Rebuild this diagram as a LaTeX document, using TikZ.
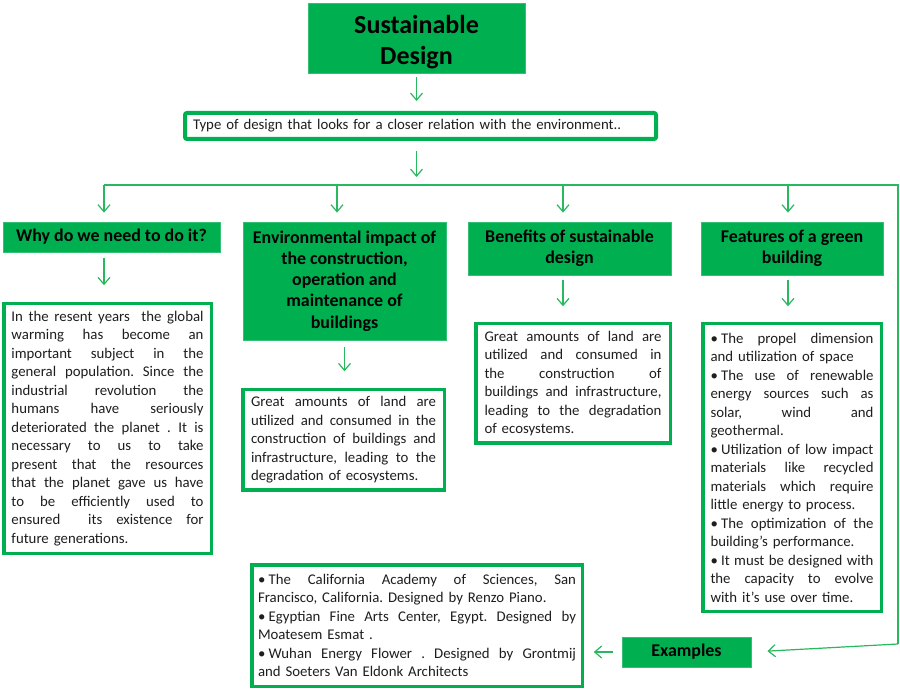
\documentclass[tikz,border=0pt]{standalone}
\usepackage{fontspec}
\setmainfont{Carlito}
\usetikzlibrary{arrows.meta}
\definecolor{gfill}{RGB}{0,176,80}
\definecolor{gline}{RGB}{40,184,96}
\definecolor{txt}{RGB}{30,30,30}
\newlength\jw
\newcommand\jl[1]{\makebox[\jw][s]{\spaceskip=\fontdimen2\font plus 1fil minus \fontdimen4\font\relax #1}}
\newcommand\bul{\mbox{•~}}
\frenchspacing
\begin{document}
\begin{tikzpicture}[x=1pt,y=-1pt,
 head/.style={rectangle, fill=gfill, draw=gfill!80!white, line width=0.8pt, inner sep=0pt, align=center, font=\fontsize{17.9}{21.2}\selectfont\bfseries, text=black},
 tbox/.style={rectangle, draw=gfill, line width=3.5pt, fill=white, inner sep=0pt, align=left, font=\fontsize{14.8}{18.5}\selectfont, text=txt},
 jw/.style={text width=#1, execute at begin node={\setlength{\jw}{#1}}},
 arr/.style={draw=gline, line width=1.2pt, -{Straight Barb[length=7pt,width=12pt]}},
 bus/.style={draw=gline, line width=1.2pt},
]
\useasboundingbox[fill=white] (0,0) rectangle (900,700);

% title and description
\node[head, minimum width=217, minimum height=70, font=\fontsize{26}{31}\selectfont\bfseries] (title) at (416.5,38) {\rule{0pt}{26pt}Sustainable\\Design};
\node[tbox, line width=4pt, rounded corners=2pt, minimum width=471, minimum height=26, text width=455] (desc) at (420.5,126) {Type of design that looks for a closer relation with the environment..};

% headings
\node[head, minimum width=217, minimum height=30] (why) at (111.5,237) {Why do we need to do it?};
\node[head, minimum width=203, minimum height=118] (env) at (344.5,281) {Environmental impact of\\the construction,\\operation and\\maintenance of\\buildings};
\node[head, minimum width=203, minimum height=53] (ben) at (569.5,248.5) {Benefits of sustainable\\design};
\node[head, minimum width=182, minimum height=53] (feat) at (792,248.5) {Features of a green\\building};
\node[head, minimum width=129, minimum height=30] (exh) at (686.5,652) {Examples};

% text boxes
\node[tbox, minimum width=207.5, minimum height=249.5, jw=192pt] (b1) at (107.5,428.5) {%
\jl{In the resent years~ the global}\\
\jl{warming has become an}\\
\jl{important subject in the}\\
\jl{general population. Since the}\\
\jl{industrial revolution the}\\
\jl{humans have seriously}\\
\jl{deteriorated the planet . It is}\\
\jl{necessary to us to take}\\
\jl{present that the resources}\\
\jl{that the planet gave us have}\\
\jl{to be efficiently used to}\\
\jl{ensured~ its existence for}\\
future generations.};

\node[tbox, minimum width=201.5, minimum height=100.5, jw=185pt] (b2) at (343.5,440) {%
\jl{Great amounts of land are}\\
\jl{utilized and consumed in the}\\
\jl{construction of buildings and}\\
\jl{infrastructure, leading to the}\\
degradation of ecosystems.};

\node[tbox, minimum width=194.5, minimum height=119.5, jw=177pt] (b3) at (573,383.5) {%
\jl{Great amounts of land are}\\
\jl{utilized and consumed in}\\
\jl{the construction of}\\
\jl{buildings and infrastructure,}\\
\jl{leading to the degradation}\\
of ecosystems.};

\node[tbox, minimum width=178.5, minimum height=287.5, jw=163pt] (b4) at (792,467.5) {%
\jl{\bul The propel dimension}\\
and utilization of space\\
\jl{\bul The use of renewable}\\
\jl{energy sources such as}\\
\jl{solar, wind and}\\
geothermal.\\
\jl{\bul Utilization of low impact}\\
\jl{materials like recycled}\\
\jl{materials which require}\\
little energy to process.\\
\jl{\bul The optimization of the}\\
building’s performance.\\
\jl{\bul It must be designed with}\\
\jl{the capacity to evolve}\\
with it’s use over time.};

\node[tbox, minimum width=330.5, minimum height=121.5, jw=318pt] (ex) at (417,625.5) {%
\jl{\bul The California Academy of Sciences, San}\\
Francisco, California. Designed by Renzo Piano.\\
\jl{\bul Egyptian Fine Arts Center, Egypt. Designed by}\\
Moatesem Esmat .\\
\jl{\bul Wuhan Energy Flower . Designed by Grontmij}\\
and Soeters Van Eldonk Architects};

% bus coordinates
\coordinate (d1) at (104,185);
\coordinate (d2) at (337,185);
\coordinate (d3) at (563,185);
\coordinate (d4) at (788,185);
\coordinate (busR) at (898,185);
\coordinate (busB) at (898,644);

% connectors
\draw[arr, shorten <=4pt, shorten >=10pt] (title.south) -- (title.south |- desc.north);
\draw[arr, shorten <=10pt, shorten >=8pt] (desc.south -| title.south) -- (title.south |- d1);
\draw[bus] (d1) -- (busR) -- (busB);
\draw[arr, shorten >=16pt] (busB) -- (exh.east);
\draw[arr, shorten >=9pt] (d1) -- (d1 |- why.north);
\draw[arr, shorten >=9pt] (d2) -- (d2 |- env.north);
\draw[arr, shorten >=9pt] (d3) -- (d3 |- ben.north);
\draw[arr, shorten >=9pt] (d4) -- (d4 |- feat.north);
\draw[arr, shorten <=6pt, shorten >=16.75pt] (d1 |- why.south) -- (d1 |- b1.north);
\draw[arr, shorten <=7pt, shorten >=16.75pt] (env.south) -- (env.south |- b2.north);
\draw[arr, shorten <=5pt, shorten >=15.75pt] (d3 |- ben.south) -- (d3 |- b3.north);
\draw[arr, shorten <=5pt, shorten >=15.75pt] (d4 |- feat.south) -- (d4 |- b4.north);
\draw[arr, shorten <=9pt, shorten >=9.75pt] (exh.west) -- (exh.west -| ex.east);
\end{tikzpicture}
\end{document}
